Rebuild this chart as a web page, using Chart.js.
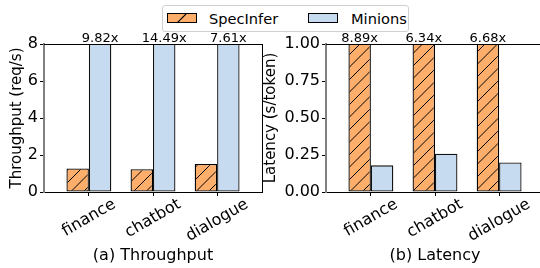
<!DOCTYPE html>
<html>
<head>
<meta charset="utf-8">
<script src="https://cdn.jsdelivr.net/npm/chart.js@4.4.0/dist/chart.umd.min.js"></script>
<style>
  html, body { margin: 0; padding: 0; background: #fff; }
  body { width: 540px; height: 268px; position: relative; overflow: hidden; font-family: 'DejaVu Sans', sans-serif; }
  canvas { position: absolute; top: 0; }
  #c1 { left: 0; }
  #c2 { left: 254px; }
  #legend { position: absolute; left: 162px; top: 5px; width: 245px; height: 25px; border: 1px solid #d0d0d0; border-radius: 3px; background: #fff; z-index: 5; }
  #legend .sw { position: absolute; top: 7px; width: 28px; height: 8px; border: 1px solid #000; }
  #legend .lt { position: absolute; top: 0; line-height: 25px; font-size: 14.6px; color: #000; white-space: nowrap; }
  .hatch { background: linear-gradient(135deg, #fdae6b calc(50% - 0.8px), #000 calc(50% - 0.5px), #000 calc(50% + 0.5px), #fdae6b calc(50% + 0.8px)); }
</style>
</head>
<body>
<div id="legend">
  <span class="sw hatch" style="left:4px"></span><span class="lt" style="left:46px">SpecInfer</span>
  <span class="sw" style="left:145px; background:#c6dbef"></span><span class="lt" style="left:188px">Minions</span>
</div>
<canvas id="c1" width="270" height="268"></canvas>
<canvas id="c2" width="292" height="268"></canvas>
<script>
const categories = ['finance', 'chatbot', 'dialogue'];

// throughput (req/s); Minions bars run past the 8 limit and get clipped
const throughputSpecInfer = [1.27, 1.23, 1.52];
const throughputMinions = [12.5, 17.8, 11.6];
const throughputRatios = ['9.82x', '14.49x', '7.61x'];
const throughputTicks = [0, 2, 4, 6, 8];

// latency (s/token); SpecInfer bars run past 1.00 and get clipped
const latencySpecInfer = [1.60, 1.64, 1.34];
const latencyMinions = [0.18, 0.259, 0.20];
const latencyRatios = ['8.89x', '6.34x', '6.68x'];
const latencyTicks = [0, 0.25, 0.5, 0.75, 1.0];

const ORANGE = '#fdae6b';
const BLUE = '#c6dbef';
const FONT = "'DejaVu Sans', sans-serif";

function makeHatch(fill) {
  const c = document.createElement('canvas');
  c.width = 25; c.height = 25;
  const g = c.getContext('2d');
  g.fillStyle = fill;
  g.fillRect(0, 0, 25, 25);
  g.strokeStyle = '#000';
  g.lineWidth = 1;
  for (let k = 0; k <= 50; k += 12.5) {
    g.beginPath();
    g.moveTo(-5, k + 5);
    g.lineTo(k + 5, -5);
    g.stroke();
  }
  return g.createPattern(c, 'repeat');
}

const framePlugin = {
  id: 'frame',
  afterDatasetsDraw(chart) {
    const { ctx, chartArea: a } = chart;
    ctx.save();
    ctx.strokeStyle = '#000';
    ctx.lineWidth = 1;
    ctx.beginPath();
    ctx.moveTo(a.left, Math.round(a.top) + 0.5);
    ctx.lineTo(a.right, Math.round(a.top) + 0.5);
    ctx.moveTo(Math.round(a.right) + 0.5, a.top);
    ctx.lineTo(Math.round(a.right) + 0.5, a.bottom);
    ctx.stroke();
    ctx.restore();
  }
};

const textPlugin = {
  id: 'texts',
  afterDraw(chart) {
    const { ctx, chartArea: a, scales } = chart;
    const o = chart.options.plugins.texts;
    ctx.save();
    ctx.fillStyle = '#000';

    // ratio labels over the taller bar
    ctx.font = '13px ' + FONT;
    ctx.textAlign = 'center';
    ctx.textBaseline = 'alphabetic';
    chart.getDatasetMeta(o.tall).data.forEach((bar, j) => {
      ctx.fillText(o.ratios[j], bar.x, a.top - 2);
    });

    // rotated category labels, centred under each tick
    ctx.font = '16px ' + FONT;
    ctx.textBaseline = 'middle';
    const ang = 30 * Math.PI / 180;
    categories.forEach((c, i) => {
      const x = scales.x.getPixelForValue(i);
      const w = ctx.measureText(c).width;
      const h = 12;
      const H = w * Math.sin(ang) + h * Math.cos(ang);
      ctx.save();
      ctx.translate(x, a.bottom + 6 + H / 2);
      ctx.rotate(-ang);
      ctx.fillText(c, 0, 0);
      ctx.restore();
    });
    ctx.restore();
  }
};

function panel(id, cfg) {
  const canvas = document.getElementById(id);
  const hatch = makeHatch(ORANGE);
  return new Chart(canvas, {
    type: 'bar',
    data: {
      datasets: [
        {
          label: 'SpecInfer',
          data: cfg.specinfer.map((v, i) => ({ x: i, y: v })),
          backgroundColor: hatch,
          borderColor: '#000',
          borderWidth: 1.3,
          borderSkipped: false
        },
        {
          label: 'Minions',
          data: cfg.minions.map((v, i) => ({ x: i, y: v })),
          backgroundColor: BLUE,
          borderColor: '#111',
          borderWidth: 1.3,
          borderSkipped: false
        }
      ]
    },
    options: {
      responsive: false,
      animation: false,
      devicePixelRatio: 1,
      layout: { padding: { top: 44, right: cfg.padRight, left: 0, bottom: 0 } },
      datasets: { bar: { categoryPercentage: 0.7, barPercentage: 1.0 } },
      plugins: {
        legend: { display: false },
        tooltip: { enabled: false },
        texts: { ratios: cfg.ratios, tall: cfg.tall }
      },
      scales: {
        x: {
          type: 'linear',
          offset: false,
          min: -0.7,
          max: 2.7,
          afterBuildTicks: s => { s.ticks = categories.map((c, i) => ({ value: i })); },
          afterFit: s => { s.height = 76; },
          ticks: { display: false },
          grid: { offset: false, drawOnChartArea: false, drawTicks: true, tickLength: 4, color: '#000', lineWidth: 1 },
          border: { color: '#000', width: 1 },
          title: {
            display: true,
            text: cfg.caption,
            color: '#000',
            font: { family: FONT, size: 16 },
            padding: { top: 0, bottom: 2.4 }
          }
        },
        y: {
          min: 0,
          max: cfg.max,
          afterBuildTicks: s => { s.ticks = cfg.ticks.map(v => ({ value: v })); },
          afterFit: s => { s.width = cfg.yWidth; },
          ticks: {
            color: '#000',
            padding: 2,
            font: { family: FONT, size: 16 },
            callback: cfg.fmt
          },
          grid: { drawOnChartArea: false, drawTicks: true, tickLength: 4, color: '#000', lineWidth: 1 },
          border: { color: '#808080', width: 2 },
          title: {
            display: true,
            text: cfg.yTitle,
            color: '#000',
            font: { family: FONT, size: 15 },
            padding: { top: 8, bottom: 0 }
          }
        }
      }
    },
    plugins: [framePlugin, textPlugin]
  });
}

panel('c1', {
  specinfer: throughputSpecInfer,
  minions: throughputMinions,
  ratios: throughputRatios,
  tall: 1,
  ticks: throughputTicks,
  max: 8,
  fmt: v => String(v),
  yTitle: 'Throughput (req/s)',
  caption: '(a) Throughput',
  yWidth: 44,
  padRight: 8
});

panel('c2', {
  specinfer: latencySpecInfer,
  minions: latencyMinions,
  ratios: latencyRatios,
  tall: 0,
  ticks: latencyTicks,
  max: 1,
  fmt: v => v.toFixed(2),
  yTitle: 'Latency (s/token)',
  caption: '(b) Latency',
  yWidth: 72,
  padRight: 2
});
</script>
</body>
</html>
